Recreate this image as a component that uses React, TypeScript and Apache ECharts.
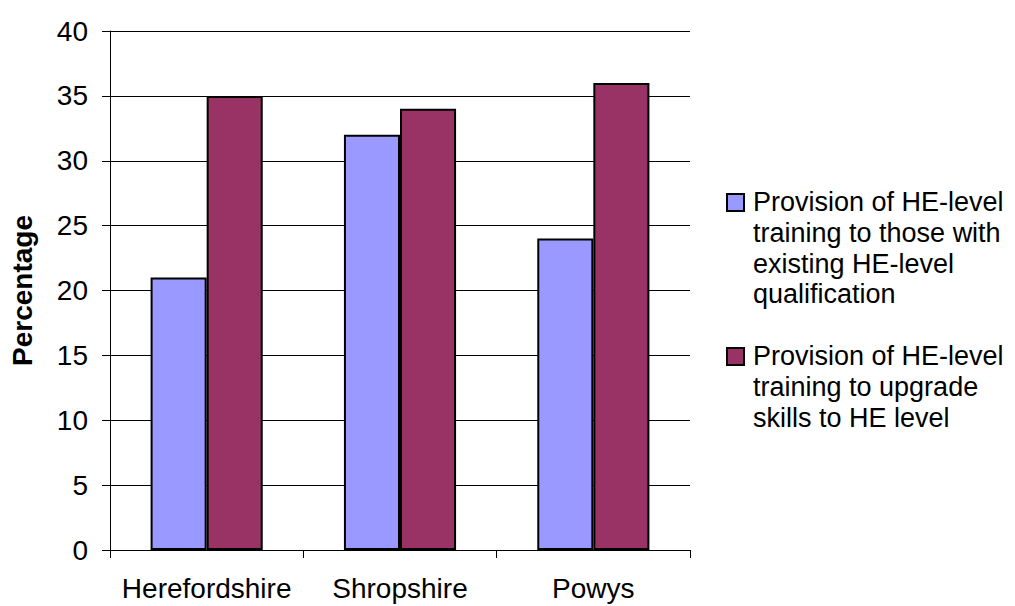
import React, { useEffect, useRef } from "react";
import * as echarts from "echarts";

const categories = ["Herefordshire", "Shropshire", "Powys"];
const existingQual = [21, 32, 24];
const upgradeSkills = [35, 34, 36];
const seriesNames = [
  "Provision of HE-level\ntraining to those with\nexisting HE-level\nqualification",
  "Provision of HE-level\ntraining to upgrade\nskills to HE level",
];
const colors = ["#9999FF", "#993366"];

const FONT = "'Liberation Sans', Arial, sans-serif";

export default function App() {
  const ref = useRef<HTMLDivElement>(null);

  useEffect(() => {
    if (!ref.current) return;
    const chart = echarts.init(ref.current, null, { renderer: "svg" });
    const legendTops = [187, 341];
    chart.setOption({
      animation: false,
      backgroundColor: "#ffffff",
      textStyle: { fontFamily: FONT },
      grid: { left: 110, top: 31, width: 580, height: 519, containLabel: false },
      xAxis: {
        type: "category",
        data: categories,
        axisLine: { show: true, lineStyle: { color: "#000", width: 1 } },
        axisTick: { show: true, length: 8, alignWithLabel: false, lineStyle: { color: "#000" } },
        axisLabel: { fontSize: 28, color: "#000", fontFamily: FONT, margin: 24, interval: 0 },
        splitLine: { show: false },
      },
      yAxis: {
        type: "value",
        min: 0,
        max: 40,
        interval: 5,
        name: "Percentage",
        nameLocation: "middle",
        nameGap: 74,
        nameTextStyle: { fontSize: 28, fontWeight: "bold", color: "#000", fontFamily: FONT },
        axisLine: { show: true, lineStyle: { color: "#000", width: 1 } },
        axisTick: { show: true, length: 8, lineStyle: { color: "#000" } },
        axisLabel: { fontSize: 28, color: "#000", fontFamily: FONT, margin: 22 },
        splitLine: { show: true, lineStyle: { color: "#000", width: 1 } },
      },
      series: [
        {
          name: seriesNames[0],
          type: "bar",
          data: existingQual,
          barGap: "0%",
          barCategoryGap: "42%",
          itemStyle: { color: colors[0], borderColor: "#000", borderWidth: 2 },
        },
        {
          name: seriesNames[1],
          type: "bar",
          data: upgradeSkills,
          barGap: "0%",
          barCategoryGap: "42%",
          itemStyle: { color: colors[1], borderColor: "#000", borderWidth: 2 },
        },
      ],
      graphic: seriesNames.flatMap((name, i) => [
        {
          type: "rect",
          shape: { x: 727, y: legendTops[i] + 7, width: 17, height: 17 },
          style: { fill: colors[i], stroke: "#000", lineWidth: 2 },
        },
        {
          type: "text",
          x: 753,
          y: legendTops[i],
          style: {
            text: name,
            fontSize: 27,
            fontFamily: FONT,
            fill: "#000",
            lineHeight: 30.7,
            verticalAlign: "top",
            align: "left",
          },
        },
      ]),
    });
    return () => chart.dispose();
  }, []);

  return (
    <div
      ref={ref}
      style={{ position: "fixed", left: 0, top: 0, width: 1015, height: 606 }}
    />
  );
}
